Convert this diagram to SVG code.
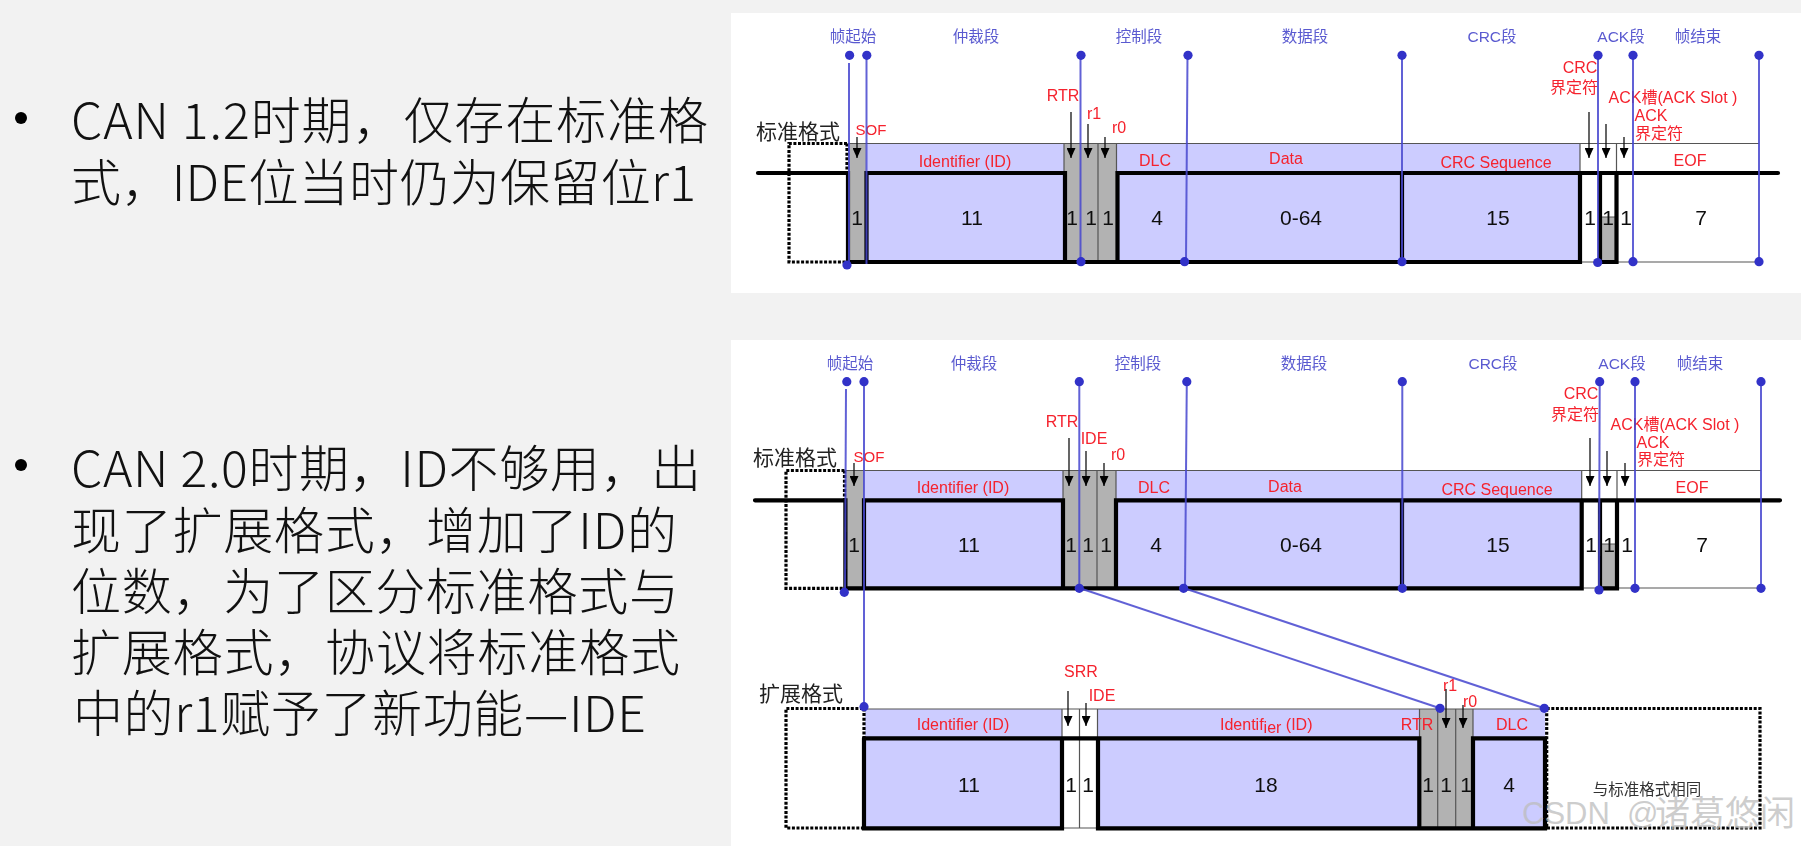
<svg xmlns="http://www.w3.org/2000/svg" width="1801" height="846" viewBox="0 0 1801 846">
<style>
text{font-family:"Liberation Sans","Noto Sans CJK SC",sans-serif;text-anchor:middle;dominant-baseline:central}
.body{font-family:"Noto Sans CJK SC","Noto Sans",sans-serif;font-size:50px;font-weight:300;fill:#111;text-anchor:start;dominant-baseline:auto}
.sec{font-size:15.5px;fill:#5a5ad0}
.red{font-size:16px;fill:#f5222d}
.num{font-size:21px;fill:#111}
.fmt{font-size:21px;fill:#222}
.blue{fill:#ccccff}.grey{fill:#b2b2b2}
.thin{fill:none;stroke:#555;stroke-width:1.2}
.wave{fill:none;stroke:#000;stroke-width:4.2;stroke-linecap:round}
.dash{fill:none;stroke:#000;stroke-width:3.2;stroke-dasharray:3 1.6}
.link{fill:none;stroke:#4646cf;stroke-width:2;stroke-opacity:.85}
.dot{fill:#3131c8}
.arw{stroke:#111;stroke-width:1.3;fill:none;marker-end:url(#ah)}
</style>
<defs>
<marker id="ah" markerUnits="userSpaceOnUse" markerWidth="11" markerHeight="9" refX="10" refY="4.5" orient="auto"><path d="M0,0L10,4.5L0,9Z" fill="#000"/></marker>
<filter id="soft" x="-2%" y="-2%" width="104%" height="104%"><feGaussianBlur stdDeviation="0.45"/></filter>
</defs>
<rect width="1801" height="846" fill="#f2f2f2"/>
<rect x="731" y="13" width="1070" height="280" fill="#fff"/>
<rect x="731" y="340" width="1070" height="506" fill="#fff"/>

<g id="left-text">
<circle cx="21" cy="118" r="6" fill="#000"/>
<text class="body" x="71" y="139" textLength="637" lengthAdjust="spacing">CAN 1.2时期，仅存在标准格</text>
<text class="body" x="71" y="201" textLength="625" lengthAdjust="spacing">式，IDE位当时仍为保留位r1</text>
<circle cx="21" cy="465" r="6" fill="#000"/>
<text class="body" x="71" y="487" textLength="630" lengthAdjust="spacing">CAN 2.0时期，ID不够用，出</text>
<text class="body" x="71" y="549" textLength="606" lengthAdjust="spacing">现了扩展格式，增加了ID的</text>
<text class="body" x="71" y="610" textLength="608" lengthAdjust="spacing">位数，为了区分标准格式与</text>
<text class="body" x="71" y="671" textLength="609" lengthAdjust="spacing">扩展格式，协议将标准格式</text>
<text class="body" x="73" y="732" textLength="573" lengthAdjust="spacing">中的r1赋予了新功能—IDE</text>
</g>

<g id="diagram" filter="url(#soft)">
<g id="frame-can12">
<rect class="blue" x="867" y="143" width="197" height="119"/>
<rect class="blue" x="1117" y="143" width="463" height="119"/>
<rect class="grey" x="848" y="143" width="18" height="119"/>
<rect class="grey" x="1064" y="143" width="52" height="119"/>
<rect class="grey" x="1600" y="217" width="16" height="45"/>
<path class="thin" d="M848,143.5H1759M1098,143V262M1064,143V173M1116.5,143V173M1580,143V173M1616.5,143V173M1580,262H1600M1617,262H1759M1600,217H1616"/>
<path class="wave" d="M758,173H848V262H1117.5V173H1580V262H1117.5M866.5,262V173H1065V262M1402,173V262M1580,173H1778M1600,173V262H1616.5V173"/>
<path class="dash" d="M847,143.5H789V262H847M847,143.5V173"/>
<text class="fmt" x="798" y="131">标准格式</text>
<text class="sec" x="853" y="36">帧起始</text><text class="sec" x="976" y="36">仲裁段</text><text class="sec" x="1139" y="36">控制段</text><text class="sec" x="1305" y="36">数据段</text><text class="sec" x="1492" y="36">CRC段</text><text class="sec" x="1621" y="36">ACK段</text><text class="sec" x="1698" y="36">帧结束</text>
<text class="red" x="1063" y="95">RTR</text><text class="red" x="1094" y="113">r1</text><text class="red" x="1119" y="127">r0</text><text class="red" x="871" y="129" style="font-size:15px">SOF</text>
<text class="red" x="965" y="161">Identifier (ID)</text><text class="red" x="1155" y="160">DLC</text><text class="red" x="1286" y="158">Data</text><text class="red" x="1496" y="162">CRC Sequence</text><text class="red" x="1690" y="160">EOF</text>
<text class="red" x="1580" y="67">CRC</text><text class="red" x="1574" y="87">界定符</text><text class="red" x="1673" y="97">ACK槽(ACK Slot )</text><text class="red" x="1651" y="115">ACK</text><text class="red" x="1659" y="133">界定符</text>
<text class="num" x="857" y="217">1</text><text class="num" x="972" y="217">11</text><text class="num" x="1072" y="217">1</text><text class="num" x="1091" y="217">1</text><text class="num" x="1108" y="217">1</text><text class="num" x="1157" y="217">4</text><text class="num" x="1301" y="217">0-64</text><text class="num" x="1498" y="217">15</text><text class="num" x="1590" y="217">1</text><text class="num" x="1608" y="217">1</text><text class="num" x="1626" y="217">1</text><text class="num" x="1701" y="217">7</text>
<path class="arw" d="M857,137V158"/><path class="arw" d="M1071,112V158"/><path class="arw" d="M1088,124V158"/><path class="arw" d="M1105,137V158"/><path class="arw" d="M1589,112V158"/><path class="arw" d="M1606,124V158"/><path class="arw" d="M1624,137V158"/>
</g>

<g id="frame-can20-standard">
<rect class="blue" x="865" y="470" width="198" height="118"/>
<rect class="blue" x="1116" y="470" width="466" height="118"/>
<rect class="grey" x="846" y="470" width="18" height="118"/>
<rect class="grey" x="1063" y="470" width="53" height="118"/>
<rect class="grey" x="1602" y="544" width="15" height="44"/>
<path class="thin" d="M846,470.5H1761M1097,470V588M1063,470V500M1116,470V500M1581.7,470V500M1617,470V500M1582,588H1600M1618,588H1761M1600,544H1617"/>
<path class="wave" d="M755,500.3H845.4V588.3H1116V500.3H1581.7V588.3H1116M864,588.3V500.3H1063V588.3M1402,500V588M1581.7,500.3H1780M1600,500.3V588.3H1617V500.3"/>
<path class="dash" d="M844.5,470.5H786V588.3H844.5M844.5,470.5V500"/>
<text class="fmt" x="795" y="457">标准格式</text>
<text class="sec" x="850" y="363">帧起始</text><text class="sec" x="974" y="363">仲裁段</text><text class="sec" x="1138" y="363">控制段</text><text class="sec" x="1304" y="363">数据段</text><text class="sec" x="1493" y="363">CRC段</text><text class="sec" x="1622" y="363">ACK段</text><text class="sec" x="1700" y="363">帧结束</text>
<text class="red" x="1062" y="421">RTR</text><text class="red" x="1094" y="438">IDE</text><text class="red" x="1118" y="454">r0</text><text class="red" x="869" y="456" style="font-size:15px">SOF</text>
<text class="red" x="963" y="487">Identifier (ID)</text><text class="red" x="1154" y="487">DLC</text><text class="red" x="1285" y="486">Data</text><text class="red" x="1497" y="489">CRC Sequence</text><text class="red" x="1692" y="487">EOF</text>
<text class="red" x="1581" y="393">CRC</text><text class="red" x="1575" y="414">界定符</text><text class="red" x="1675" y="424">ACK槽(ACK Slot )</text><text class="red" x="1653" y="442">ACK</text><text class="red" x="1661" y="459">界定符</text>
<text class="num" x="854" y="544">1</text><text class="num" x="969" y="544">11</text><text class="num" x="1071" y="544">1</text><text class="num" x="1088" y="544">1</text><text class="num" x="1106" y="544">1</text><text class="num" x="1156" y="544">4</text><text class="num" x="1301" y="544">0-64</text><text class="num" x="1498" y="544">15</text><text class="num" x="1591" y="544">1</text><text class="num" x="1609" y="544">1</text><text class="num" x="1627" y="544">1</text><text class="num" x="1702" y="544">7</text>
<path class="arw" d="M854,463V486"/><path class="arw" d="M1069,438V486"/><path class="arw" d="M1086,451V486"/><path class="arw" d="M1104,463V486"/><path class="arw" d="M1590,438V486"/><path class="arw" d="M1607,451V486"/><path class="arw" d="M1625,463V486"/>
</g>

<g id="frame-can20-extended">
<rect class="blue" x="865" y="709" width="197" height="119"/>
<rect class="blue" x="1098" y="709" width="321" height="119"/>
<rect class="grey" x="1419" y="709" width="54" height="119"/>
<rect class="blue" x="1473" y="709" width="72" height="119"/>
<path class="thin" d="M864,709H1545M1062,709V738M1079.5,709V828M1097.5,709V738M1419.5,709V738M1437.7,709V828M1455.7,709V828M1473,709V738M1062,828H1098"/>
<path class="wave" d="M864,738.3H1419.3V828.3H1473V738.3H1545V828.3H1419.3M864,738.3V828.3H1062V738.3M1098,738.3V828.3H1419.3"/>
<path class="dash" d="M863,708.5H786V828H863M864,708.5V738M1546.7,708.5H1760V828H1546.7V708.5"/>
<text class="fmt" x="801" y="693">扩展格式</text>
<text class="red" x="1081" y="671">SRR</text><text class="red" x="1102" y="695">IDE</text><text class="red" x="963" y="724">Identifier (ID)</text>
<text class="red" x="1220" y="724" style="text-anchor:start">Identif<tspan dy="2.5">ier</tspan><tspan dy="-2.5"> (ID)</tspan></text>
<text class="red" x="1417" y="724">RTR</text><text class="red" x="1450" y="685">r1</text><text class="red" x="1470" y="701">r0</text><text class="red" x="1512" y="724">DLC</text>
<text class="num" x="969" y="784">11</text><text class="num" x="1071" y="784">1</text><text class="num" x="1088" y="784">1</text><text class="num" x="1266" y="784">18</text><text class="num" x="1428" y="784">1</text><text class="num" x="1446" y="784">1</text><text class="num" x="1466" y="784">1</text><text class="num" x="1509" y="784">4</text>
<text x="1647" y="789" style="font-size:15.5px;fill:#333">与标准格式相同</text>
<path class="arw" d="M1068,691V726"/><path class="arw" d="M1086,703V726"/><path class="arw" d="M1446,689V728"/><path class="arw" d="M1463,705V728"/>
</g>

<g id="connectors">
<path class="link" d="M849,63V265M866.5,55V264M1080.5,55V262M1187.5,55L1186,262M1402,55V262M1598,55V262M1633,55V262M1759,55V262"/>
<path class="link" d="M846,389L845,592M864,382V707M1079.3,382V588M1186.8,382L1185,588M1402.3,382V588M1599.7,382L1599,590M1635,382V588M1761,382V588"/>
<path class="link" d="M1079.3,588L1440,708.3M1183.6,588L1544.3,708.3"/>
<g class="dot">
<circle cx="849.6" cy="55.3" r="4.6"/><circle cx="866.8" cy="55.3" r="4.6"/><circle cx="1081" cy="55.3" r="4.6"/><circle cx="1188" cy="55.3" r="4.6"/><circle cx="1402" cy="55.3" r="4.6"/><circle cx="1598" cy="55.3" r="4.6"/><circle cx="1633" cy="55.3" r="4.6"/><circle cx="1759" cy="55.3" r="4.6"/>
<circle cx="847" cy="265" r="4.6"/><circle cx="1081" cy="261.7" r="4.6"/><circle cx="1184.6" cy="261.7" r="4.6"/><circle cx="1402" cy="261.7" r="4.6"/><circle cx="1597.7" cy="262.5" r="4.6"/><circle cx="1633" cy="261.7" r="4.6"/><circle cx="1759" cy="261.7" r="4.6"/>
<circle cx="846.8" cy="381.7" r="4.6"/><circle cx="864" cy="381.7" r="4.6"/><circle cx="1079.3" cy="381.7" r="4.6"/><circle cx="1186.8" cy="381.7" r="4.6"/><circle cx="1402.3" cy="381.7" r="4.6"/><circle cx="1599.7" cy="381.7" r="4.6"/><circle cx="1635" cy="381.7" r="4.6"/><circle cx="1761" cy="381.7" r="4.6"/>
<circle cx="844.3" cy="592.3" r="4.6"/><circle cx="1079.3" cy="588.3" r="4.6"/><circle cx="1183.6" cy="588.3" r="4.6"/><circle cx="1402.3" cy="588.3" r="4.6"/><circle cx="1599" cy="590" r="4.6"/><circle cx="1635" cy="588.3" r="4.6"/><circle cx="1761" cy="588.3" r="4.6"/>
<circle cx="864" cy="706.7" r="4.6"/><circle cx="1440" cy="708.3" r="4.6"/><circle cx="1544.3" cy="708.3" r="4.6"/>
</g>
</g>
</g>
<text id="watermark" x="1522" y="813" style="text-anchor:start;font-size:31px;fill:#bdbdbd;fill-opacity:.75">CSDN <tspan x="1627">@</tspan><tspan x="1655" style="font-size:35px">诸葛悠闲</tspan></text>
</svg>
